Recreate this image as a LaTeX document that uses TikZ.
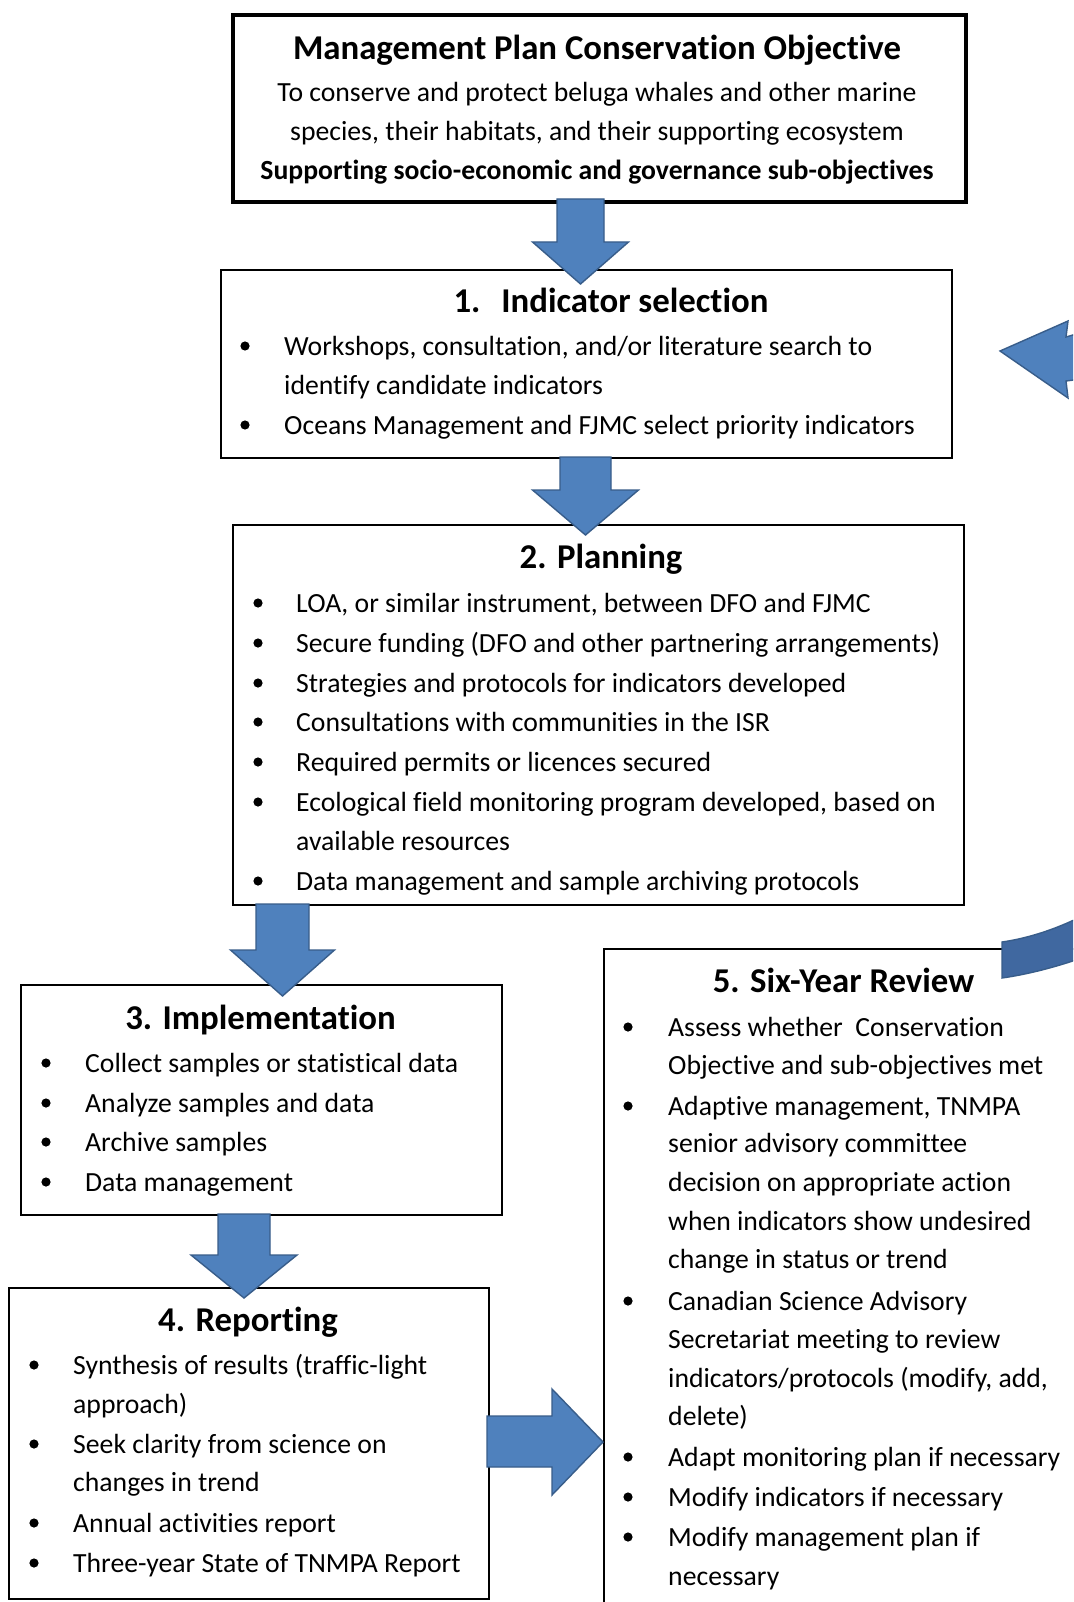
\documentclass[tikz,border=0pt]{standalone}
\usepackage{fontspec}
\setmainfont[Ligatures=NoCommon]{Carlito}
\definecolor{arrowblue}{HTML}{4F81BD}
\definecolor{arrowedge}{HTML}{385D8A}
\definecolor{banddark}{RGB}{64,104,160}
\begin{document}
\begin{tikzpicture}[x=1pt,y=-1pt,
  box/.style={draw=black,line width=1.6pt,inner sep=0pt,anchor=north west},
  blk/.style={fill=arrowblue,draw=arrowedge,line width=1.4pt,line join=miter},
  body/.style={anchor=mid west,yshift=-7pt,inner sep=0pt,font=\fontsize{27.7}{33}\selectfont},
  cbody/.style={anchor=mid,yshift=-7pt,inner sep=0pt,font=\fontsize{27.7}{33}\selectfont},
  cbold/.style={anchor=mid,yshift=-7pt,inner sep=0pt,font=\fontsize{27.7}{33}\selectfont\bfseries},
  ttl/.style={anchor=mid,yshift=-9pt,inner sep=0pt,font=\fontsize{34.8}{40}\selectfont\bfseries},
]
\useasboundingbox (0,0) rectangle (1073,1602);
\clip (0,0) rectangle (1073,1602);
\fill[white] (0,0) rectangle (1073,1602);

% boxes
\node[box,line width=4pt,minimum width=733pt,minimum height=187pt] (b0) at (231,13) {};
\node[box,minimum width=731pt,minimum height=188pt] (b1) at (220,269) {};
\node[box,minimum width=731pt,minimum height=380pt] (b2) at (232,524) {};
\node[box,minimum width=481pt,minimum height=230pt] (b3) at (20,984) {};
\node[box,minimum width=480pt,minimum height=311pt] (b4) at (8,1287) {};
\node[box,minimum width=520pt,minimum height=720pt] (b5) at (603,948) {};

% top box text
\node[ttl] (t0) at (597,48) {Management Plan Conservation Objective};
\node[cbody] (t0a) at (597,92) {To conserve and protect beluga whales and other marine};
\node[cbody] (t0b) at (597,131) {species, their habitats, and their supporting ecosystem};
\node[cbold] (t0c) at (597,170) {Supporting socio-economic and governance sub-objectives};

% box 1
\node[ttl] (t1) at (611,301) {1.\hspace{0.6em}Indicator selection};
\fill (245,346) circle (4.6pt);
\node[body] (l1a) at (284,346) {Workshops, consultation, and/or literature search to};
\node[body] (l1b) at (284,385) {identify candidate indicators};
\fill (245,425) circle (4.6pt);
\node[body] (l1c) at (284,425) {Oceans Management and FJMC select priority indicators};

% box 2
\node[ttl] (t2) at (601,557) {2. Planning};
\foreach \yy in {603,643,683,722,762,802,881} {\fill (258,\yy) circle (4.6pt);}
\node[body] (l2a) at (296,603) {LOA, or similar instrument, between DFO and FJMC};
\node[body] (l2b) at (296,643) {Secure funding (DFO and other partnering arrangements)};
\node[body] (l2c) at (296,683) {Strategies and protocols for indicators developed};
\node[body] (l2d) at (296,722) {Consultations with communities in the ISR};
\node[body] (l2e) at (296,762) {Required permits or licences secured};
\node[body] (l2f) at (296,802) {Ecological field monitoring program developed, based on};
\node[body] (l2g) at (296,841) {available resources};
\node[body] (l2h) at (296,881) {Data management and sample archiving protocols};

% box 3
\node[ttl] (t3) at (260.5,1018) {3. Implementation};
\foreach \yy in {1063,1103,1142,1182} {\fill (46,\yy) circle (4.6pt);}
\node[body] (l3a) at (85,1063) {Collect samples or statistical data};
\node[body] (l3b) at (85,1103) {Analyze samples and data};
\node[body] (l3c) at (85,1142) {Archive samples};
\node[body] (l3d) at (85,1182) {Data management};

% box 4
\node[ttl] (t4) at (248,1320) {4. Reporting};
\foreach \yy in {1365,1444,1523,1563} {\fill (34,\yy) circle (4.6pt);}
\node[body] (l4a) at (73,1365) {Synthesis of results (traffic-light};
\node[body] (l4b) at (73,1404) {approach)};
\node[body] (l4c) at (73,1444) {Seek clarity from science on};
\node[body] (l4d) at (73,1482) {changes in trend};
\node[body] (l4e) at (73,1523) {Annual activities report};
\node[body] (l4f) at (73,1563) {Three-year State of TNMPA Report};

% box 5
\node[ttl] (t5) at (843.5,981) {5. Six-Year Review};
\foreach \yy in {1027,1106,1301,1457,1497,1537} {\fill (628,\yy) circle (4.6pt);}
\node[body] (l5a) at (668,1027) {Assess whether\ \ Conservation};
\node[body] (l5b) at (668,1065) {Objective and sub-objectives met};
\node[body] (l5c) at (668,1106) {Adaptive management, TNMPA};
\node[body] (l5d) at (668,1143) {senior advisory committee};
\node[body] (l5e) at (668,1182) {decision on appropriate action};
\node[body] (l5f) at (668,1221) {when indicators show undesired};
\node[body] (l5g) at (668,1259) {change in status or trend};
\node[body] (l5h) at (668,1301) {Canadian Science Advisory};
\node[body] (l5i) at (668,1339) {Secretariat meeting to review};
\node[body] (l5j) at (668,1378) {indicators/protocols (modify, add,};
\node[body] (l5k) at (668,1416) {delete)};
\node[body] (l5l) at (668,1457) {Adapt monitoring plan if necessary};
\node[body] (l5m) at (668,1497) {Modify indicators if necessary};
\node[body] (l5n) at (668,1537) {Modify management plan if};
\node[body] (l5o) at (668,1576) {necessary};

% block arrows down
\newcommand\dnarrow[7]{% xc, top, neck, tip, halfshaft, halfhead
  \draw[blk] (#1-#5,#2) -- (#1+#5,#2) -- (#1+#5,#3) -- (#1+#6,#3) -- (#1,#4) -- (#1-#6,#3) -- (#1-#5,#3) -- cycle;}
\dnarrow{580.5}{199}{242}{284}{23.5}{48}{}
\dnarrow{585.5}{457}{490}{535}{25.5}{53}{}
\dnarrow{282.5}{904}{950}{996}{26.5}{52}{}
\dnarrow{244}{1214}{1255}{1298}{26}{53}{}
% right arrow from box 4 to box 5
\draw[blk] (487,1416) -- (552,1416) -- (552,1389) -- (603,1442) -- (552,1495) -- (552,1467) -- (487,1467) -- cycle;

% curved return arrow (partly off page)
\draw[fill=banddark,draw=arrowedge,line width=1.4pt] (1002,942) .. controls (1030,938) and (1060,928) .. (1090,912) -- (1090,955) .. controls (1060,966) and (1030,974) .. (1002,978) -- cycle;
\draw[blk] (1000,351) -- (1068,321) -- (1066,337) -- (1090,330) -- (1090,378) -- (1066,381) -- (1068,398) -- cycle;
\end{tikzpicture}
\end{document}
